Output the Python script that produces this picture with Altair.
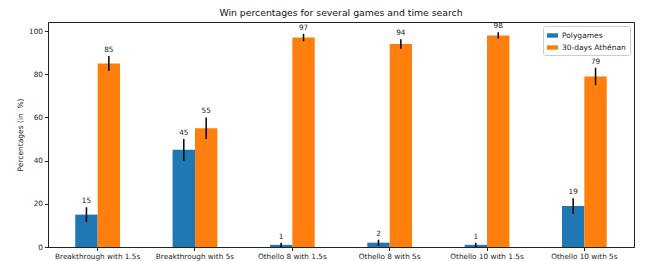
import altair as alt
import pandas as pd

games = ["Breakthrough with 1.5s", "Breakthrough with 5s", "Othello 8 with 1.5s",
         "Othello 8 with 5s", "Othello 10 with 1.5s", "Othello 10 with 5s"]
series = ["Polygames", "30-days Athénan"]
polygames = [15, 45, 1, 2, 1, 19]
polygames_err = [3.4, 5.0, 1.0, 1.4, 1.0, 3.6]
athenan = [85, 55, 97, 94, 98, 79]
athenan_err = [3.4, 5.0, 1.7, 2.2, 1.4, 4.0]
colors = ["#1f77b4", "#ff7f0e"]

rows = []
for i, g in enumerate(games):
    for s, vals, errs in ((series[0], polygames, polygames_err), (series[1], athenan, athenan_err)):
        v, e = vals[i], errs[i]
        rows.append({"game": g, "series": s, "value": v, "lo": v - e, "hi": v + e, "label": str(v)})
df = pd.DataFrame(rows)

font = "DejaVu Sans"
xenc = alt.X("game:N", sort=games, title=None,
             scale=alt.Scale(paddingInner=0.54, paddingOuter=0.28),
             axis=alt.Axis(labelAngle=0, labelFontSize=7.3, labelColor="#222", labelFont=font,
                           tickColor="#222", tickSize=3.5, labelPadding=2, domainColor="#222"))
xoff = alt.XOffset("series:N", sort=series, scale=alt.Scale(paddingInner=0, paddingOuter=0))
ydom = alt.Scale(domain=[0, 104.2], nice=False, zero=True)

bars = alt.Chart(df).mark_bar().encode(
    x=xenc, xOffset=xoff,
    y=alt.Y("value:Q", scale=ydom, title="Percentages (in\u00a0 %)",
            axis=alt.Axis(values=[0, 20, 40, 60, 80, 100], grid=False, labelFontSize=7.3,
                          labelFont=font, labelColor="#222", tickColor="#222", tickSize=3.5,
                          labelPadding=2, titleFont=font, titleFontSize=7.5, titleFontWeight="normal",
                          titleColor="#222", titlePadding=4, domainColor="#222")),
    color=alt.Color("series:N", sort=series, scale=alt.Scale(domain=series, range=colors),
                    legend=alt.Legend(title=None, orient="top-right", offset=4,
                                      labelFont=font, labelFontSize=7.5, labelColor="#222",
                                      symbolType="M-1,-0.4L1,-0.4L1,0.4L-1,0.4Z", symbolSize=120,
                                      symbolStrokeWidth=0, strokeColor="#ccc", fillColor="white",
                                      padding=4, cornerRadius=2, rowPadding=3)),
)

errs = alt.Chart(df).mark_rule(color="black", strokeWidth=1.5).encode(
    x=xenc, xOffset=xoff, y=alt.Y("lo:Q", scale=ydom), y2="hi:Q")

labels = alt.Chart(df).mark_text(baseline="bottom", dy=-2, fontSize=7.3, font=font, color="#222").encode(
    x=xenc, xOffset=xoff, y=alt.Y("hi:Q", scale=ydom), text="label:N")

chart = alt.layer(bars, errs, labels).properties(
    width=586, height=225,
    title=alt.TitleParams("Win percentages for several games and time search", font=font,
                          fontSize=9.3, fontWeight="normal", color="#111", offset=4),
    autosize=alt.AutoSizeParams(type="none"),
    padding={"left": 40, "top": 14, "right": 4, "bottom": 20},
).configure_view(stroke="#222", strokeWidth=1)

chart.save("out.html", embed_options={"renderer": "svg", "actions": False})
